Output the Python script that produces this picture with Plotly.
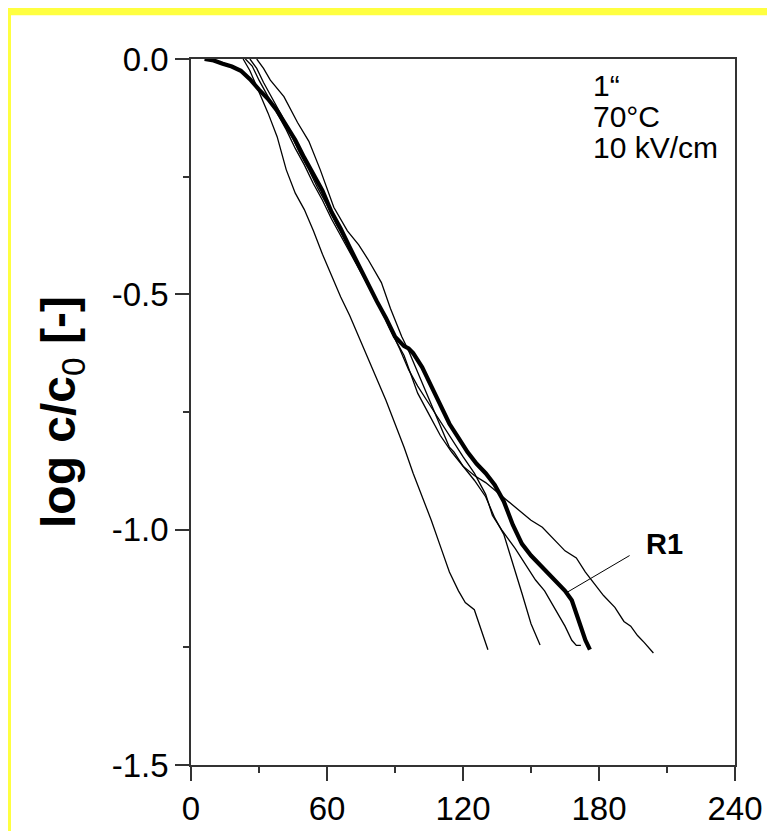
import plotly.graph_objects as go

# ---- data (time [s] vs log c/c0) ----
R1_t = [6, 10, 14, 18, 22, 26, 30, 34, 38, 42, 46, 50, 54, 58, 62, 66, 70, 74, 78, 82, 86, 90, 94, 96, 98,
        102, 106, 110, 114, 118, 122, 126, 130, 134, 138, 142, 146, 150, 154, 158, 162, 165, 168, 170, 172, 174, 176]
R1_v = [0, -0.003, -0.01, -0.016, -0.025, -0.043, -0.065, -0.085, -0.11, -0.14, -0.172, -0.21, -0.245, -0.28,
        -0.325, -0.36, -0.4, -0.44, -0.475, -0.515, -0.55, -0.59, -0.61, -0.615, -0.625, -0.655, -0.695, -0.735,
        -0.775, -0.805, -0.835, -0.86, -0.88, -0.905, -0.94, -0.99, -1.03, -1.055, -1.075, -1.095, -1.115, -1.13,
        -1.15, -1.18, -1.21, -1.235, -1.255]

A_t = [23, 26, 30, 34, 38, 42, 46, 50, 54, 58, 62, 66, 70, 74, 78, 82, 86, 90, 94, 98, 102, 106, 110, 114,
       118, 121, 125, 128, 131]
A_v = [0, -0.025, -0.07, -0.115, -0.165, -0.235, -0.285, -0.32, -0.365, -0.415, -0.46, -0.505, -0.545, -0.59,
       -0.635, -0.68, -0.725, -0.775, -0.825, -0.88, -0.93, -0.98, -1.035, -1.09, -1.13, -1.155, -1.17, -1.215,
       -1.255]

B_t = [24, 27, 30, 34, 38, 42, 46, 50, 54, 58, 62, 66, 70, 74, 78, 82, 86, 90, 94, 97, 100, 105, 110, 115,
       120, 125, 130, 134, 138, 142, 146, 150, 154]
B_v = [0, -0.015, -0.045, -0.08, -0.115, -0.15, -0.19, -0.225, -0.265, -0.3, -0.34, -0.375, -0.41, -0.445,
       -0.48, -0.515, -0.555, -0.595, -0.63, -0.67, -0.71, -0.755, -0.8, -0.835, -0.865, -0.895, -0.93, -0.975,
       -1.01, -1.07, -1.135, -1.2, -1.245]

C_t = [26, 29, 32, 36, 40, 44, 48, 52, 56, 60, 64, 68, 72, 76, 80, 84, 88, 92, 96, 100, 104, 110, 115, 120,
       125, 130, 133, 137, 143, 147, 152, 156, 159, 162, 165, 168, 170, 172]
C_v = [0, -0.02, -0.05, -0.085, -0.12, -0.16, -0.2, -0.235, -0.275, -0.31, -0.35, -0.385, -0.42, -0.46,
       -0.495, -0.535, -0.575, -0.615, -0.66, -0.695, -0.725, -0.77, -0.81, -0.845, -0.88, -0.925, -0.97, -1.0,
       -1.04, -1.07, -1.107, -1.13, -1.155, -1.18, -1.205, -1.235, -1.246, -1.246]

D_t = [29, 32, 35, 41, 47, 52, 57, 63, 69, 74, 78, 84, 88, 93, 96, 100, 105, 110, 114, 116, 120, 125, 130,
       135, 140, 145, 150, 155, 160, 165, 170, 174, 178, 182, 187, 191, 194, 197, 200, 204]
D_v = [0, -0.02, -0.045, -0.08, -0.135, -0.175, -0.235, -0.315, -0.365, -0.395, -0.425, -0.475, -0.53, -0.59,
       -0.62, -0.665, -0.72, -0.78, -0.825, -0.835, -0.865, -0.885, -0.9, -0.92, -0.94, -0.96, -0.98, -0.995,
       -1.02, -1.045, -1.06, -1.09, -1.115, -1.14, -1.165, -1.195, -1.205, -1.225, -1.24, -1.262]

x_ticks = [0, 60, 120, 180, 240]
y_ticks = [0.0, -0.5, -1.0, -1.5]
y_ticktext = ["0.0", "-0.5", "-1.0", "-1.5"]
info_lines = ["1\u201c", "70\u00b0C", "10 kV/cm"]
label_R1 = "R1"

FONT = "Liberation Sans, Arial, sans-serif"

fig = go.Figure()
for t, v in [(A_t, A_v), (B_t, B_v), (C_t, C_v), (D_t, D_v)]:
    fig.add_trace(go.Scatter(x=t, y=v, mode="lines", line=dict(color="black", width=1.3), showlegend=False))
fig.add_trace(go.Scatter(x=R1_t, y=R1_v, mode="lines", line=dict(color="black", width=4.2), showlegend=False))

axis_common = dict(showline=True, linecolor="#333", linewidth=1.5, mirror=True, showgrid=False,
                   zeroline=False, ticks="outside", ticklen=14, tickwidth=1.5, tickcolor="#333",
                   tickfont=dict(family=FONT, size=33, color="black"))

fig.update_xaxes(range=[0, 240], tickmode="array", tickvals=x_ticks,
                 minor=dict(tickvals=[30, 90, 150, 210], ticks="outside", ticklen=6, tickwidth=1.5,
                            tickcolor="#333", showgrid=False),
                 **axis_common)
fig.update_yaxes(range=[-1.5, 0], tickmode="array", tickvals=y_ticks, ticktext=y_ticktext,
                 minor=dict(tickvals=[-0.25, -0.75, -1.25], ticks="outside", ticklen=6, tickwidth=1.5,
                            tickcolor="#333", showgrid=False),
                 **axis_common)

annotations = [
    dict(text="<b>log c/c</b><sub>0</sub><b> [-]</b>", xref="paper", yref="paper", x=(54 - 183) / 544, y=0.5,
         textangle=-90, showarrow=False, xanchor="center", yanchor="middle",
         font=dict(family=FONT, size=48, color="black")),
    dict(text="<b>%s</b>" % label_R1, xref="x", yref="y", x=209, y=-1.03, showarrow=False,
         xanchor="center", yanchor="middle", font=dict(family=FONT, size=29, color="black")),
]
for i, line in enumerate(info_lines):
    annotations.append(dict(text=line, xref="paper", yref="paper", x=(583 - 183) / 544,
                            y=(777 - (78 + 32 * i)) / 726, showarrow=False, xanchor="left",
                            yanchor="middle", font=dict(family=FONT, size=30, color="black")))

shapes = [
    dict(type="rect", xref="paper", yref="paper", x0=(3 - 183) / 544, x1=1.2, y0=-0.2,
         y1=(777 - 6) / 726, fillcolor="white", line=dict(width=0), layer="below"),
    dict(type="line", xref="x", yref="y", x0=165.6, y0=-1.134, x1=193.5, y1=-1.055,
         line=dict(color="black", width=1)),
]

fig.update_layout(width=775, height=831, margin=dict(l=183, r=48, t=51, b=54),
                  paper_bgcolor="#FFFF40", plot_bgcolor="white",
                  annotations=annotations, shapes=shapes, showlegend=False)

fig.write_html("out.html")
